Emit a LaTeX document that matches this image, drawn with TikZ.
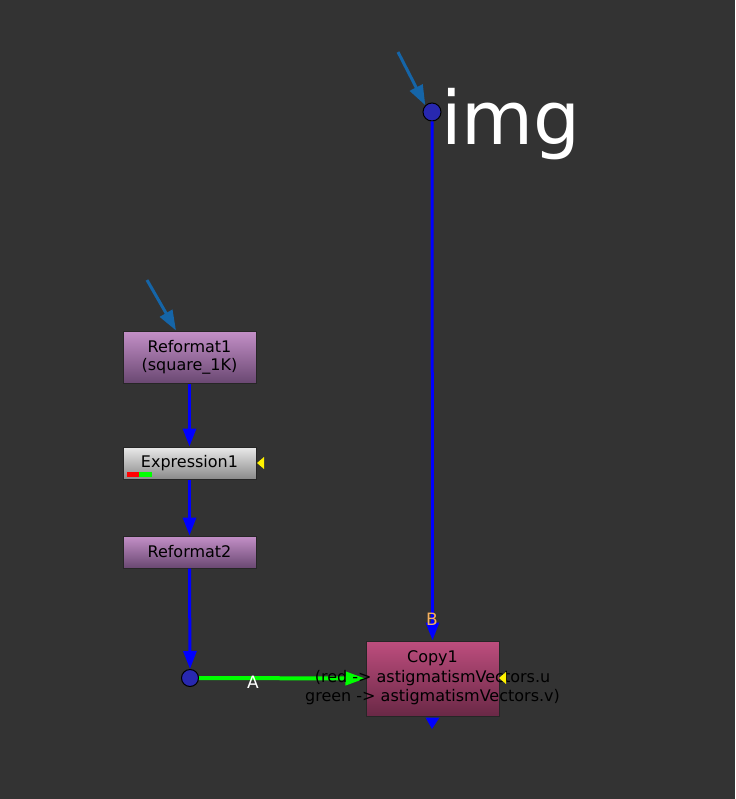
\documentclass[tikz,border=0pt]{standalone}
\usepackage{fontspec}
\setmainfont{DejaVu Sans}
\usetikzlibrary{arrows.meta,shadings,calc}
\definecolor{bg}{HTML}{333333}
\definecolor{pipe}{HTML}{0000FF}
\definecolor{steel}{HTML}{1565A8}
\definecolor{dotfill}{HTML}{2828B0}
\definecolor{labB}{HTML}{F5B060}
\definecolor{refTop}{HTML}{C490C8}
\definecolor{refBot}{HTML}{6A4872}
\definecolor{expTop}{HTML}{EAEAEA}
\definecolor{expBot}{HTML}{8A8A8A}
\definecolor{cpTop}{HTML}{BE4E7E}
\definecolor{cpBot}{HTML}{6A2846}
\definecolor{greenpipe}{HTML}{00FF00}
\tikzset{
  nukebox/.style={draw=black!85, line width=1pt, minimum width=133pt, inner sep=0pt, align=center, font=\fontsize{16}{18}\selectfont, text=black},
  reformatbox/.style={nukebox, top color=refTop, bottom color=refBot},
  pipeline/.style={draw=pipe, line width=3pt, -{Triangle[width=13pt,length=18pt]}},
  inarrow/.style={draw=steel, line width=3pt, -{Triangle[width=14pt,length=20pt]}},
  dotnode/.style={circle, draw=black, line width=1pt, fill=dotfill, minimum size=17pt, inner sep=0pt},
  yellowtri/.style={fill=yellow, draw=none},
  labtext/.style={font=\fontsize{17}{18}\selectfont, inner sep=0pt},
}
\begin{document}
\begin{tikzpicture}[x=1pt,y=-1pt]
\fill[bg] (0,0) rectangle (735,799);
\useasboundingbox (0,0) rectangle (735,799);
% nodes
\node[reformatbox, minimum height=52pt] (ref1) at (189.5,357) {Reformat1\\(square\_1K)};
\node[nukebox, minimum height=32pt, top color=expTop, bottom color=expBot] (expr) at (189.5,463) {Expression1};
\node[reformatbox, minimum height=32pt] (ref2) at (189.5,552) {Reformat2};
\node[nukebox, minimum height=75pt, top color=cpTop, bottom color=cpBot] (copy) at (432.5,678.5) {};
\node[font=\fontsize{16}{19}\selectfont, text=black] (copyt) at (432.5,658) {Copy1};
% dots
\node[dotnode] (dotA) at (190,678) {};
\node[dotnode, minimum size=18pt] (dotB) at (432,112) {};
\node[anchor=base west, text=white, font=\fontsize{74}{80}\selectfont, inner sep=0pt] (img) at (441,145) {img};
% expression bars
\fill[red] (127,472) rectangle (139,476.5);
\fill[greenpipe] (139,472) rectangle (151.5,476.5);
% input arrows
\coordinate (inB) at (398,52);
\coordinate (inR) at (147,280);
\draw[inarrow] (inB) -- (dotB.north west);
\draw[inarrow] (inR) -- (ref1.north -| 176,0);
% pipes
\draw[pipeline] (ref1.south) -- (expr.north);
\draw[pipeline] (expr.south) -- (ref2.north);
\draw[pipeline] (ref2.south) -- (dotA.north);
\draw[pipeline] (dotB.south) -- (copy.north);
\node[labtext, text=labB] (labelB) at (432,619) {B};
\draw[greenpipe, line width=4pt, -{Triangle[width=13pt,length=20pt]}] (dotA.east) -- (copy.west);
\node[labtext, text=white] (labelA) at (253,682) {A};
\node[font=\fontsize{16}{19}\selectfont, text=black, align=center, inner sep=0pt] (copyl) at (432.5,688) {(red -> astigmatismVectors.u\\green -> astigmatismVectors.v)};
% output tip
\fill[pipe] ($(copy.south)+(-7,1)$) -- ($(copy.south)+(7,1)$) -- (432,729) -- cycle;
% yellow triangles
\fill[yellowtri] (257,463) -- (264,457) -- (264,469) -- cycle;
\fill[yellowtri] (499,678) -- (506,672) -- (506,684) -- cycle;
\end{tikzpicture}
\end{document}
